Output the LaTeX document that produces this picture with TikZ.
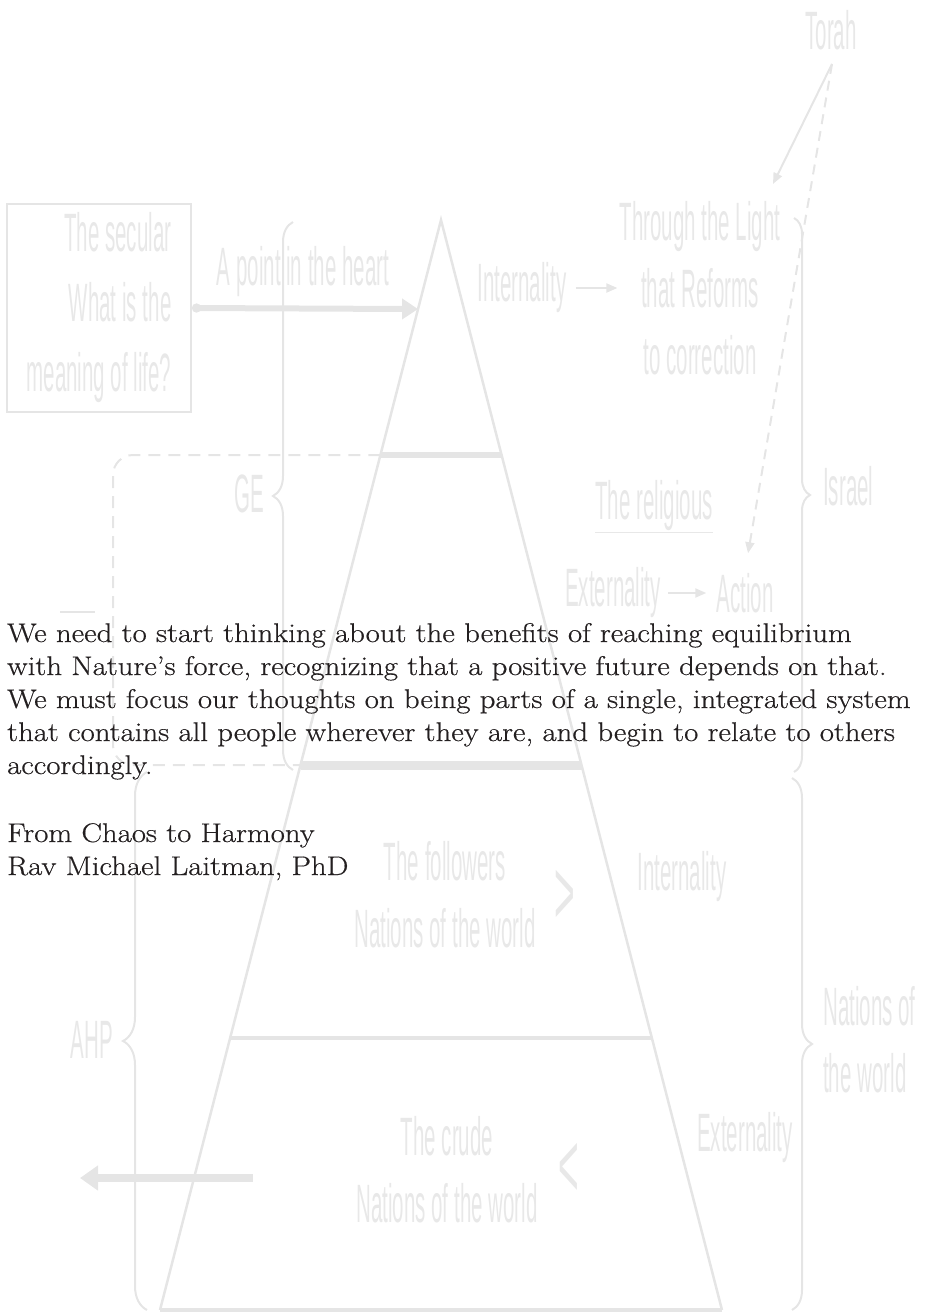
\documentclass[tikz,border=0pt]{standalone}
\usepackage{fontspec}
\newfontfamily\palefont[FakeStretch=0.38]{Liberation Sans}
\newfontfamily\inkfont[FakeStretch=1.14, FakeBold=0.5]{Latin Modern Roman}
\usetikzlibrary{positioning,calc,arrows.meta,decorations.pathreplacing}

\definecolor{paleline}{RGB}{229,229,229}
\definecolor{paletext}{RGB}{232,232,232}
\definecolor{inktext}{RGB}{35,31,32}

\tikzset{
  pale/.style={draw=paleline, line width=2pt},
  paletxt/.style={text=paletext, font=\palefont\fontsize{54}{67}\selectfont, inner sep=2pt, align=center},
  bigchev/.style={text=paletext, font=\palefont\fontsize{93}{93}\selectfont, inner sep=0pt},
  thickarrow/.style={draw=paleline, line width=6pt},
  thinarrow/.style={draw=paleline, line width=2pt, -{Triangle[length=11pt,width=9pt]}},
  bracel/.style={draw=paleline, line width=2pt, decorate, decoration={brace, amplitude=#1}},
  prose/.style={text=inktext, font=\inkfont\fontsize{27}{33}\selectfont, align=left, inner sep=0pt, anchor=base west}
}

\begin{document}
\begin{tikzpicture}[x=1pt, y=-1pt]
\useasboundingbox (0,0) rectangle (925,1314);

% pyramid
\coordinate (apex) at (441,220);
\coordinate (bl) at (160,1310);
\coordinate (br) at (722,1310);
\coordinate (topL) at ($(apex)!0.2156!(bl)$);
\coordinate (topR) at ($(apex)!0.2156!(br)$);
\coordinate (lowL) at ($(apex)!0.5!(bl)$);
\coordinate (lowR) at ($(apex)!0.5!(br)$);
\coordinate (midL) at ($(apex)!0.7505!(bl)$);
\coordinate (midR) at ($(apex)!0.7505!(br)$);
\coordinate (heart) at ($(apex)!0.0817!(bl)$);
\draw[pale, line width=2.5pt] (bl) -- (apex) -- (br);
\draw[pale, line width=4pt] (bl) -- (br);
\draw[pale, line width=6pt] (topL) -- (topR);
\draw[pale, line width=9pt] (lowL) -- (lowR);
\draw[pale, line width=4pt] (midL) -- (midR);
\draw[pale, dash pattern=on 12pt off 8pt, rounded corners=20pt] (topL) -- (113,455) -- (113,765) -- (lowL);
\draw[pale] (60,612) -- (95,612);

% left side
\node[paletxt, draw=paleline, line width=2pt, minimum width=184pt, minimum height=208pt,
      align=right, font=\palefont\fontsize{54}{70}\selectfont] (secular) at (99,308)
      {The secular\\What is the\\meaning of life?};
\draw[thickarrow, {Circle[length=9pt]}-{Triangle[length=16pt,width=20pt]}] (secular.east) -- (heart);
\node[paletxt] (point) at (303,272) {A point in the heart};
\draw[bracel=20pt] (293,770) -- (293,222);
\node[paletxt] (ge) at (249,494) {GE};
\draw[bracel=24pt] (147,1310) -- (147,772);
\node[paletxt] (ahp) at (92,1040) {AHP};
\coordinate (outS) at (253,1178);
\coordinate (outE) at (80,1178);
\draw[thickarrow, line width=8pt, -{Triangle[length=18pt,width=24pt]}] (outS) -- (outE);

% right side
\node[paletxt] (torah) at (831,30) {Torah};
\coordinate (torahfoot) at (832,64);
\node[paletxt] (light) at (700,288) {Through the Light\\that Reforms\\to correction};
\coordinate (toLight) at (773,184);
\draw[thinarrow] (torahfoot) -- (toLight);
\node[paletxt] (intern) at (522,288) {Internality};
\draw[thinarrow, shorten <=7pt] (intern.east) -- (intern.east -| light.west);
\node[paletxt] (relig) at (654,507) {\underline{The religious}};
\node[paletxt] (ext) at (613,593) {Externality};
\node[paletxt] (action) at (745,593) {Action};
\draw[thinarrow, shorten <=5pt, shorten >=8pt] (ext) -- (action);
\draw[thinarrow, dash pattern=on 10pt off 7pt, shorten >=18pt] (torahfoot) -- (action.north);
\draw[bracel=16pt] (794,218) -- (794,772);
\node[paletxt, anchor=west] (israel) at (821,486) {Israel};
\draw[bracel=20pt] (792,778) -- (792,1310);
\node[paletxt, anchor=west, align=left] (nations) at (821,1040) {Nations of\\the world};

% lower pyramid
\node[paletxt] (followers) at (445,895) {The followers\\Nations of the world};
\node[bigchev] (gt) at (565,897) {>};
\node[paletxt] (intern2) at (682,877) {Internality};
\node[paletxt] (crude) at (447,1170) {The crude\\Nations of the world};
\node[bigchev] (lt) at (569,1170) {<};
\node[paletxt] (ext2) at (745,1138) {Externality};

% quotation
\node[prose] (quote) at (7,774) {We need to start thinking about the benefits of reaching equilibrium\\
with Nature’s force, recognizing that a positive future depends on that.\\
We must focus our thoughts on being parts of a single, integrated system\\
that contains all people wherever they are, and begin to relate to others\\
accordingly.};
\node[prose] (source) at (7,875) {From Chaos to Harmony\\Rav Michael Laitman, PhD};
\end{tikzpicture}
\end{document}
